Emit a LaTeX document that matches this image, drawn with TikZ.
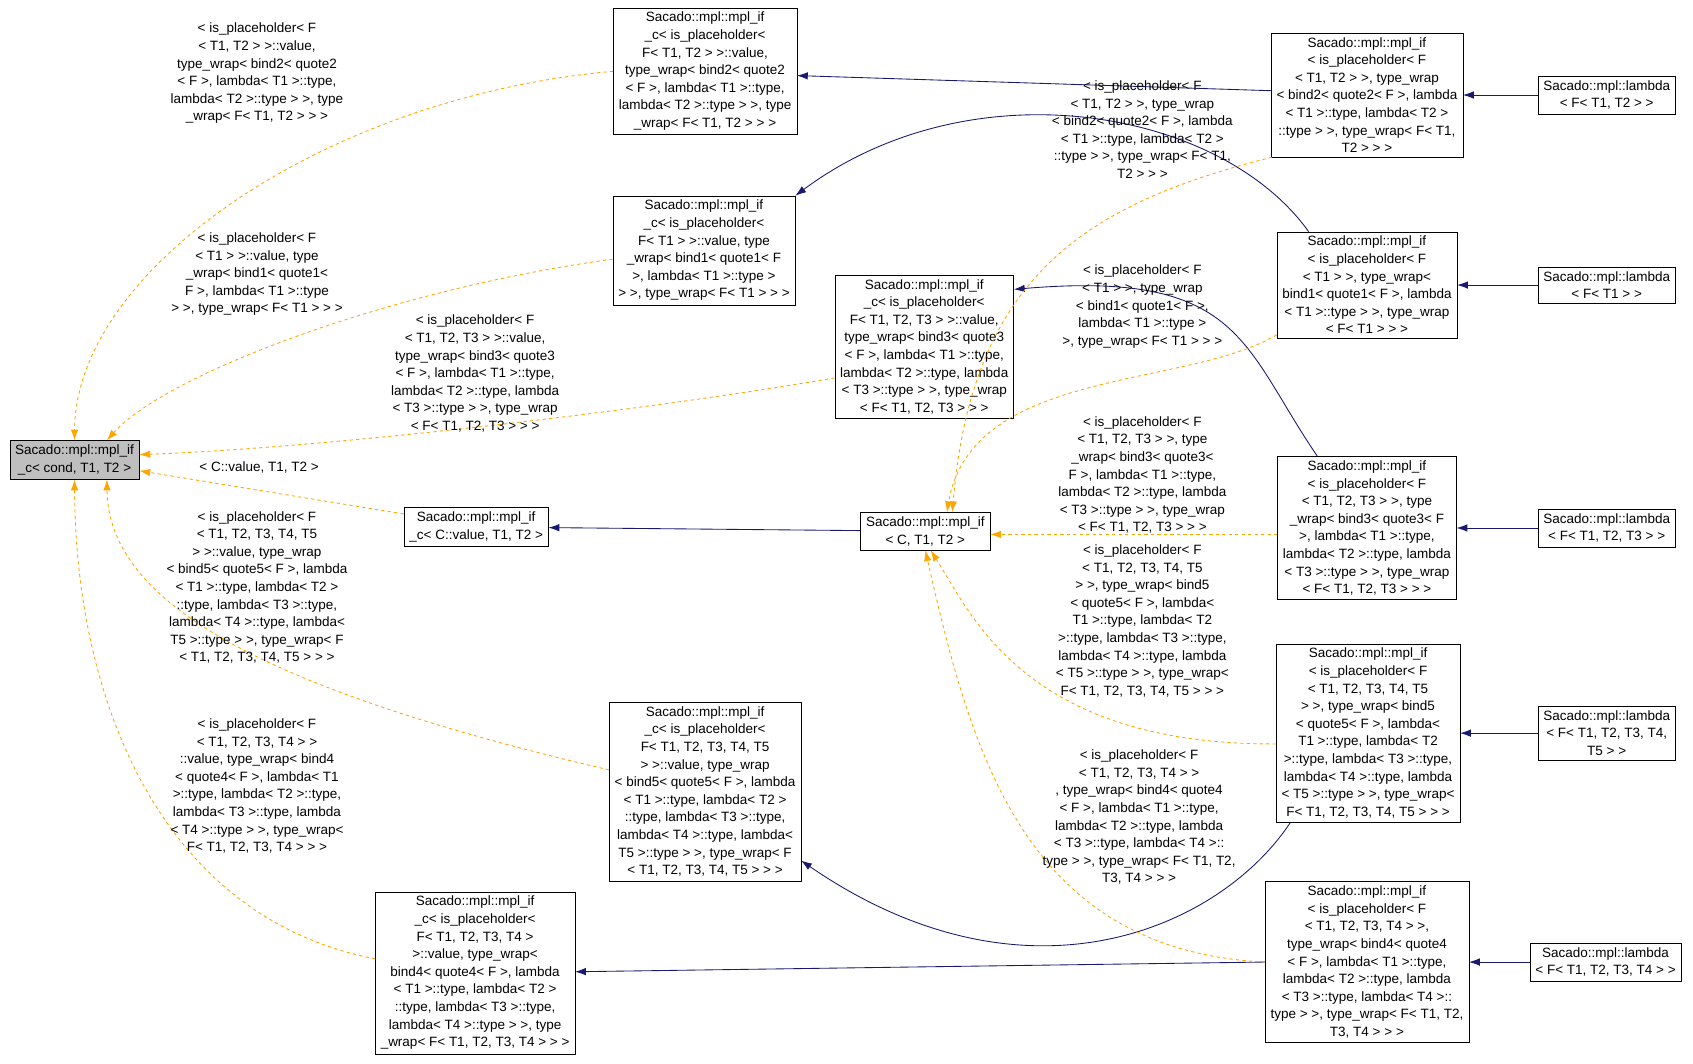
\documentclass[tikz,border=0pt]{standalone}
\usepackage{fontspec}
\setmainfont{Liberation Sans}
\usetikzlibrary{arrows.meta}
\definecolor{navy}{HTML}{191970}
\definecolor{orng}{HTML}{FFA500}
\begin{document}
\begin{tikzpicture}[x=1pt,y=-1pt,
  box/.style={draw,align=center,inner xsep=5pt,inner ysep=4pt,font=\fontsize{12.5}{16.3}\selectfont},
  lab/.style={align=center,inner sep=0pt,font=\fontsize{12.5}{16.3}\selectfont},
  sol/.style={draw=navy,line width=0.8pt,-{Latex[length=10pt,width=7pt,fill=navy]}},
  dsh/.style={draw=orng,dashed,line width=0.8pt,-{Latex[length=10pt,width=7pt,fill=orng]}}]
\useasboundingbox[fill=white] (0,0) rectangle (1568,985);
\node[box,fill=black!25] (A) at (69,426) {Sacado::mpl::mpl\_if\\\_c< cond, T1, T2 >};
\node[box] (B) at (441,488) {Sacado::mpl::mpl\_if\\\_c< C::value, T1, T2 >};
\node[box] (C) at (857,492) {Sacado::mpl::mpl\_if\\< C, T1, T2 >};
\node[box] (D) at (653,66) {Sacado::mpl::mpl\_if\\\_c< is\_placeholder<\\F< T1, T2 > >::value,\\type\_wrap< bind2< quote2\\< F >, lambda< T1 >::type,\\lambda< T2 >::type > >, type\\\_wrap< F< T1, T2 > > >};
\node[box] (E) at (652,232) {Sacado::mpl::mpl\_if\\\_c< is\_placeholder<\\F< T1 > >::value, type\\\_wrap< bind1< quote1< F\\>, lambda< T1 >::type >\\> >, type\_wrap< F< T1 > > >};
\node[box] (F) at (856,321) {Sacado::mpl::mpl\_if\\\_c< is\_placeholder<\\F< T1, T2, T3 > >::value,\\type\_wrap< bind3< quote3\\< F >, lambda< T1 >::type,\\lambda< T2 >::type, lambda\\< T3 >::type > >, type\_wrap\\< F< T1, T2, T3 > > >};
\node[box] (G) at (653,733) {Sacado::mpl::mpl\_if\\\_c< is\_placeholder<\\F< T1, T2, T3, T4, T5\\> >::value, type\_wrap\\< bind5< quote5< F >, lambda\\< T1 >::type, lambda< T2 >\\::type, lambda< T3 >::type,\\lambda< T4 >::type, lambda<\\T5 >::type > >, type\_wrap< F\\< T1, T2, T3, T4, T5 > > >};
\node[box] (H) at (440,901) {Sacado::mpl::mpl\_if\\\_c< is\_placeholder<\\F< T1, T2, T3, T4 >\\>::value, type\_wrap<\\bind4< quote4< F >, lambda\\< T1 >::type, lambda< T2 >\\::type, lambda< T3 >::type,\\lambda< T4 >::type > >, type\\\_wrap< F< T1, T2, T3, T4 > > >};
\node[box] (I) at (1266,88) {Sacado::mpl::mpl\_if\\< is\_placeholder< F\\< T1, T2 > >, type\_wrap\\< bind2< quote2< F >, lambda\\< T1 >::type, lambda< T2 >\\::type > >, type\_wrap< F< T1,\\T2 > > >};
\node[box] (J) at (1266,264) {Sacado::mpl::mpl\_if\\< is\_placeholder< F\\< T1 > >, type\_wrap<\\bind1< quote1< F >, lambda\\< T1 >::type > >, type\_wrap\\< F< T1 > > >};
\node[box] (K) at (1266,489) {Sacado::mpl::mpl\_if\\< is\_placeholder< F\\< T1, T2, T3 > >, type\\\_wrap< bind3< quote3< F\\>, lambda< T1 >::type,\\lambda< T2 >::type, lambda\\< T3 >::type > >, type\_wrap\\< F< T1, T2, T3 > > >};
\node[box] (L) at (1267,679) {Sacado::mpl::mpl\_if\\< is\_placeholder< F\\< T1, T2, T3, T4, T5\\> >, type\_wrap< bind5\\< quote5< F >, lambda<\\T1 >::type, lambda< T2\\>::type, lambda< T3 >::type,\\lambda< T4 >::type, lambda\\< T5 >::type > >, type\_wrap<\\F< T1, T2, T3, T4, T5 > > >};
\node[box] (M) at (1266,891) {Sacado::mpl::mpl\_if\\< is\_placeholder< F\\< T1, T2, T3, T4 > >,\\type\_wrap< bind4< quote4\\< F >, lambda< T1 >::type,\\lambda< T2 >::type, lambda\\< T3 >::type, lambda< T4 >::\\type > >, type\_wrap< F< T1, T2,\\T3, T4 > > >};
\node[box] (La) at (1488,88) {Sacado::mpl::lambda\\< F< T1, T2 > >};
\node[box] (Lb) at (1488,264) {Sacado::mpl::lambda\\< F< T1 > >};
\node[box] (Lc) at (1488,489) {Sacado::mpl::lambda\\< F< T1, T2, T3 > >};
\node[box] (Ld) at (1488,679) {Sacado::mpl::lambda\\< F< T1, T2, T3, T4,\\T5 > >};
\node[box] (Le) at (1487,891) {Sacado::mpl::lambda\\< F< T1, T2, T3, T4 > >};
% solid
\draw[sol] (La) -- (I);
\draw[sol] (Lb) -- (J);
\draw[sol] (Lc) -- (K);
\draw[sol] (Ld) -- (L);
\draw[sol] (Le) -- (M);
\draw[sol] (C) -- (B);
\draw[sol] ([yshift=4pt]I.west) -- ([yshift=-4pt]D.east);
\draw[sol] ([xshift=-54pt]J.north) .. controls (1130,100) and (900,60) .. (E.north east);
\draw[sol] ([xshift=-46pt]K.north) .. controls (1150,320) and (1150,250) .. ([yshift=53pt]F.east);
\draw[sol] ([xshift=-72pt]L.south) .. controls (1130,860) and (950,940) .. ([yshift=-64pt]G.east);
\draw[sol] (M.west) -- ([yshift=1pt]H.east);
% dashed
\draw[dsh] (D.west) .. controls (300,90) and (70,250) .. (A.north);
\draw[dsh] ([yshift=-8pt]E.west) .. controls (350,270) and (150,350) .. ([xshift=30pt]A.north);
\draw[dsh] ([yshift=-29pt]F.west) .. controls (600,380) and (300,415) .. ([yshift=5pt]A.east);
\draw[dsh] ([yshift=12pt]B.west) -- ([yshift=-10pt]A.east);
\draw[dsh] ([yshift=20pt]G.west) .. controls (250,640) and (100,560) .. ([xshift=30pt]A.south);
\draw[dsh] ([yshift=13pt]H.west) .. controls (150,850) and (70,650) .. (A.south);
\draw[dsh] ([xshift=-88pt]I.south) .. controls (1000,190) and (900,260) .. ([xshift=25pt]C.north);
\draw[dsh] ([yshift=-46pt]J.west) .. controls (1100,360) and (900,340) .. ([xshift=20pt]C.north);
\draw[dsh] ([yshift=-6pt]K.west) -- ([yshift=-3pt]C.east);
\draw[dsh] ([yshift=-10pt]L.west) .. controls (950,690) and (900,570) .. ([xshift=5pt]C.south);
\draw[dsh] (M.west) .. controls (950,880) and (900,700) .. (C.south);
% labels
\node[lab] (l1) at (238,68) {< is\_placeholder< F\\< T1, T2 > >::value,\\type\_wrap< bind2< quote2\\< F >, lambda< T1 >::type,\\lambda< T2 >::type > >, type\\\_wrap< F< T1, T2 > > >};
\node[lab] (l2) at (238,254) {< is\_placeholder< F\\< T1 > >::value, type\\\_wrap< bind1< quote1<\\F >, lambda< T1 >::type\\> >, type\_wrap< F< T1 > > >};
\node[lab] (l3) at (440,346) {< is\_placeholder< F\\< T1, T2, T3 > >::value,\\type\_wrap< bind3< quote3\\< F >, lambda< T1 >::type,\\lambda< T2 >::type, lambda\\< T3 >::type > >, type\_wrap\\< F< T1, T2, T3 > > >};
\node[lab] (l4) at (240,433) {< C::value, T1, T2 >};
\node[lab] (l5) at (238,544) {< is\_placeholder< F\\< T1, T2, T3, T4, T5\\> >::value, type\_wrap\\< bind5< quote5< F >, lambda\\< T1 >::type, lambda< T2 >\\::type, lambda< T3 >::type,\\lambda< T4 >::type, lambda<\\T5 >::type > >, type\_wrap< F\\< T1, T2, T3, T4, T5 > > >};
\node[lab] (l6) at (238,728) {< is\_placeholder< F\\< T1, T2, T3, T4 > >\\::value, type\_wrap< bind4\\< quote4< F >, lambda< T1\\>::type, lambda< T2 >::type,\\lambda< T3 >::type, lambda\\< T4 >::type > >, type\_wrap<\\F< T1, T2, T3, T4 > > >};
\node[lab] (l7) at (1058,120) {< is\_placeholder< F\\< T1, T2 > >, type\_wrap\\< bind2< quote2< F >, lambda\\< T1 >::type, lambda< T2 >\\::type > >, type\_wrap< F< T1,\\T2 > > >};
\node[lab] (l8) at (1058,284) {< is\_placeholder< F\\< T1 > >, type\_wrap\\< bind1< quote1< F >,\\lambda< T1 >::type >\\>, type\_wrap< F< T1 > > >};
\node[lab] (l9) at (1058,440) {< is\_placeholder< F\\< T1, T2, T3 > >, type\\\_wrap< bind3< quote3<\\F >, lambda< T1 >::type,\\lambda< T2 >::type, lambda\\< T3 >::type > >, type\_wrap\\< F< T1, T2, T3 > > >};
\node[lab] (l10) at (1058,575) {< is\_placeholder< F\\< T1, T2, T3, T4, T5\\> >, type\_wrap< bind5\\< quote5< F >, lambda<\\T1 >::type, lambda< T2\\>::type, lambda< T3 >::type,\\lambda< T4 >::type, lambda\\< T5 >::type > >, type\_wrap<\\F< T1, T2, T3, T4, T5 > > >};
\node[lab] (l11) at (1055,757) {< is\_placeholder< F\\< T1, T2, T3, T4 > >\\, type\_wrap< bind4< quote4\\< F >, lambda< T1 >::type,\\lambda< T2 >::type, lambda\\< T3 >::type, lambda< T4 >::\\type > >, type\_wrap< F< T1, T2,\\T3, T4 > > >};
\end{tikzpicture}
\end{document}
